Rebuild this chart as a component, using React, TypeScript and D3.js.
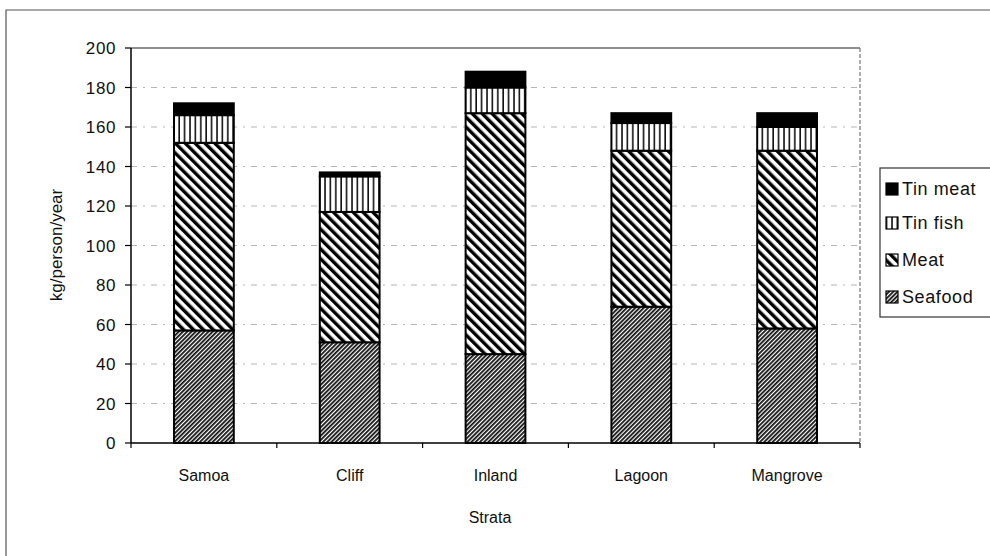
import React from "react";
import * as d3 from "d3";

const categories = ["Samoa", "Cliff", "Inland", "Lagoon", "Mangrove"];
const seriesNames = ["Seafood", "Meat", "Tin fish", "Tin meat"];
const seafood = [57, 51, 45, 69, 58];
const meat = [95, 66, 122, 79, 90];
const tinFish = [14, 18, 13, 14, 12];
const tinMeat = [6, 2, 8, 5, 7];
const yTicks = [0, 20, 40, 60, 80, 100, 120, 140, 160, 180, 200];
const legendOrder = ["Tin meat", "Tin fish", "Meat", "Seafood"];

const W = 990;
const H = 556;
const plot = { left: 131, right: 860, top: 48, bottom: 443 };
const FONT = "'Liberation Sans', Arial, sans-serif";

const fills: Record<string, string> = {
  Seafood: "url(#pSeafood)",
  Meat: "url(#pMeat)",
  "Tin fish": "url(#pTinFish)",
  "Tin meat": "#000",
};

export default function App() {
  const x = d3
    .scaleBand<string>()
    .domain(categories)
    .range([plot.left, plot.right])
    .paddingInner(0.59)
    .paddingOuter(0.295);
  const y = d3.scaleLinear().domain([0, 200]).range([plot.bottom, plot.top]);

  const rows = categories.map((c, i) => ({
    cat: c,
    Seafood: seafood[i],
    Meat: meat[i],
    "Tin fish": tinFish[i],
    "Tin meat": tinMeat[i],
  }));
  const stack = d3.stack<any>().keys(seriesNames)(rows);
  const step = x.step();

  return (
    <svg
      width={W}
      height={H}
      style={{ position: "absolute", left: 0, top: 0, background: "#fff" }}
    >
      <defs>
        <pattern id="pSeafood" patternUnits="userSpaceOnUse" width={3} height={3} patternTransform="rotate(45)">
          <rect width={3} height={3} fill="#fff" />
          <line x1={0.9} y1={0} x2={0.9} y2={3} stroke="#111" strokeWidth={1.8} />
        </pattern>
        <pattern id="pMeat" patternUnits="userSpaceOnUse" width={7} height={7} patternTransform="rotate(-45)">
          <rect width={7} height={7} fill="#fff" />
          <line x1={1.7} y1={0} x2={1.7} y2={7} stroke="#000" strokeWidth={3.4} />
        </pattern>
        <pattern id="pTinFish" patternUnits="userSpaceOnUse" width={5.4} height={5} x={0}>
          <rect width={5.4} height={5} fill="#fff" />
          <line x1={1} y1={0} x2={1} y2={5} stroke="#000" strokeWidth={1.5} />
        </pattern>
      </defs>

      {/* outer frame */}
      <path d={`M6,${H} L6,10 L${W},10`} fill="none" stroke="#555" strokeWidth={1.2} />

      {/* gridlines */}
      {yTicks.filter((t) => t > 0 && t < 200).map((t) => (
        <line
          key={"g" + t}
          x1={plot.left}
          x2={plot.right}
          y1={y(t)}
          y2={y(t)}
          stroke="#b5b5b5"
          strokeWidth={1}
          strokeDasharray="6,6,2,6"
        />
      ))}

      {/* plot area border */}
      <line x1={plot.left} x2={plot.right} y1={plot.top} y2={plot.top} stroke="#222" strokeWidth={1.2} />
      <line x1={plot.right} x2={plot.right} y1={plot.top} y2={plot.bottom} stroke="#777" strokeWidth={1.2} strokeDasharray="4,2" />

      {/* bars */}
      {stack.map((s) =>
        s.map((d: any, i: number) => (
          <rect
            key={s.key + i}
            x={x(categories[i])}
            y={y(d[1])}
            width={x.bandwidth()}
            height={y(d[0]) - y(d[1])}
            fill={fills[s.key as string]}
            stroke="#000"
            strokeWidth={2}
          />
        ))
      )}

      {/* axes */}
      <line x1={plot.left} x2={plot.left} y1={plot.top} y2={plot.bottom} stroke="#000" strokeWidth={1.5} />
      <line x1={plot.left} x2={plot.right} y1={plot.bottom} y2={plot.bottom} stroke="#000" strokeWidth={1.5} />
      {yTicks.map((t) => (
        <g key={"t" + t}>
          <line x1={plot.left - 6} x2={plot.left} y1={y(t)} y2={y(t)} stroke="#000" strokeWidth={1.2} />
          <text
            x={116}
            y={y(t)}
            dy="0.36em"
            textAnchor="end"
            fontFamily={FONT}
            fontSize={17}
            letterSpacing={0.6}
            fill="#111"
          >
            {t}
          </text>
        </g>
      ))}
      {categories.map((c, i) => (
        <g key={"c" + c}>
          <line
            x1={plot.left + step * (i + 1)}
            x2={plot.left + step * (i + 1)}
            y1={plot.bottom}
            y2={plot.bottom + 5}
            stroke="#000"
            strokeWidth={1.2}
          />
          <text
            x={(x(c) as number) + x.bandwidth() / 2}
            y={481}
            textAnchor="middle"
            fontFamily={FONT}
            fontSize={16}
            fill="#111"
          >
            {c}
          </text>
        </g>
      ))}
      <line x1={plot.left} x2={plot.left} y1={plot.bottom} y2={plot.bottom + 5} stroke="#000" strokeWidth={1.2} />

      <text x={490} y={523} textAnchor="middle" fontFamily={FONT} fontSize={16} fill="#111">
        Strata
      </text>
      <text
        transform={`translate(62,245) rotate(-90)`}
        textAnchor="middle"
        fontFamily={FONT}
        fontSize={17}
        fill="#111"
      >
        kg/person/year
      </text>

      {/* legend */}
      <rect x={880} y={168} width={120} height={149} fill="#fff" stroke="#333" strokeWidth={1.2} />
      {legendOrder.map((name, i) => {
        const cy = [189, 223, 260, 297][i];
        return (
          <g key={"l" + name}>
            <rect x={886} y={cy - 6} width={12} height={12} fill={fills[name]} stroke="#000" strokeWidth={1.2} />
            <text x={902} y={cy} dy="0.36em" fontFamily={FONT} fontSize={18} letterSpacing={0.6} fill="#111">
              {name}
            </text>
          </g>
        );
      })}
    </svg>
  );
}
